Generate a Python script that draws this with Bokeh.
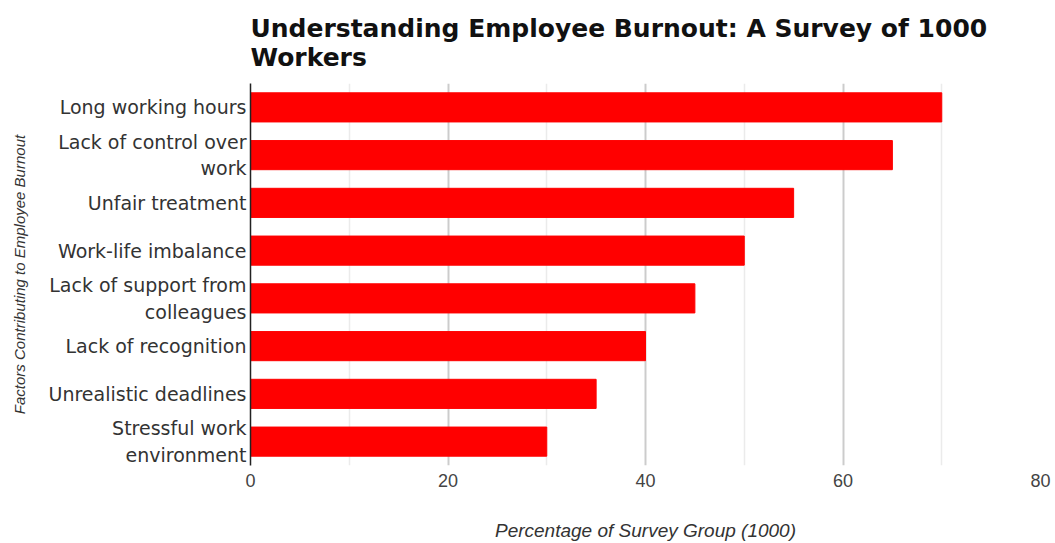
from bokeh.plotting import figure
from bokeh.models import FactorRange, Range1d, FixedTicker
from bokeh.embed import file_html
from bokeh.resources import INLINE

factors = [
    "Long working hours",
    "Lack of control over\nwork",
    "Unfair treatment",
    "Work-life imbalance",
    "Lack of support from\ncolleagues",
    "Lack of recognition",
    "Unrealistic deadlines",
    "Stressful work\nenvironment",
]
values = [70, 65, 55, 50, 45, 40, 35, 30]
x_ticks = [0, 20, 40, 60, 80]
x_minor = [10, 30, 50, 70]

p = figure(
    width=1055, height=543,
    y_range=FactorRange(factors=factors[::-1], range_padding=0),
    x_range=Range1d(0, 80),
    output_backend="svg", toolbar_location=None,
    min_border_left=250, min_border_right=15, min_border_top=83, min_border_bottom=78,
    title="Understanding Employee Burnout: A Survey of 1000\nWorkers",
)
p.hbar(y=factors, right=values, left=0, height=0.61, color="#ff0000", line_color="#ff0000")

p.title.text_font = "DejaVu Sans"
p.title.text_font_size = "25px"
p.title.text_font_style = "bold"
p.title.text_color = "#111111"
p.title.align = "left"
p.title.text_line_height = 1.0
p.title.standoff = 23

p.outline_line_color = None
p.background_fill_color = "white"

p.xaxis.ticker = FixedTicker(ticks=x_ticks, minor_ticks=x_minor)
p.xaxis.axis_line_color = None
p.xaxis.major_tick_line_color = None
p.xaxis.minor_tick_line_color = None
p.xaxis.major_tick_out = 0
p.xaxis.minor_tick_out = 0
p.xaxis.major_label_text_font = "Liberation Sans"
p.xaxis.major_label_text_font_size = "18px"
p.xaxis.major_label_text_color = "#444444"
p.xaxis.major_label_standoff = 8
p.xaxis.axis_label = "Percentage of Survey Group (1000)"
p.xaxis.axis_label_text_font = "Liberation Sans"
p.xaxis.axis_label_text_font_style = "italic"
p.xaxis.axis_label_text_font_size = "19px"
p.xaxis.axis_label_text_color = "#333333"
p.xaxis.axis_label_standoff = 30

p.yaxis.axis_line_color = "#222222"
p.yaxis.axis_line_width = 1.5
p.yaxis.major_tick_line_color = None
p.yaxis.minor_tick_line_color = None
p.yaxis.major_tick_out = 0
p.yaxis.minor_tick_out = 0
p.yaxis.major_label_text_font = "DejaVu Sans"
p.yaxis.major_label_text_font_size = "19px"
p.yaxis.major_label_text_color = "#333333"
p.yaxis.major_label_standoff = 4
p.yaxis.axis_label = "Factors Contributing to Employee Burnout"
p.yaxis.axis_label_text_font = "Liberation Sans"
p.yaxis.axis_label_text_font_style = "italic"
p.yaxis.axis_label_text_font_size = "15px"
p.yaxis.axis_label_text_color = "#333333"
p.yaxis.axis_label_standoff = 18

p.ygrid.grid_line_color = None
p.xgrid.grid_line_color = "#cccccc"
p.xgrid.grid_line_width = 2
p.xgrid.minor_grid_line_color = "#ebebeb"
p.xgrid.minor_grid_line_width = 1.5

open("out.html", "w").write(file_html(p, INLINE))
